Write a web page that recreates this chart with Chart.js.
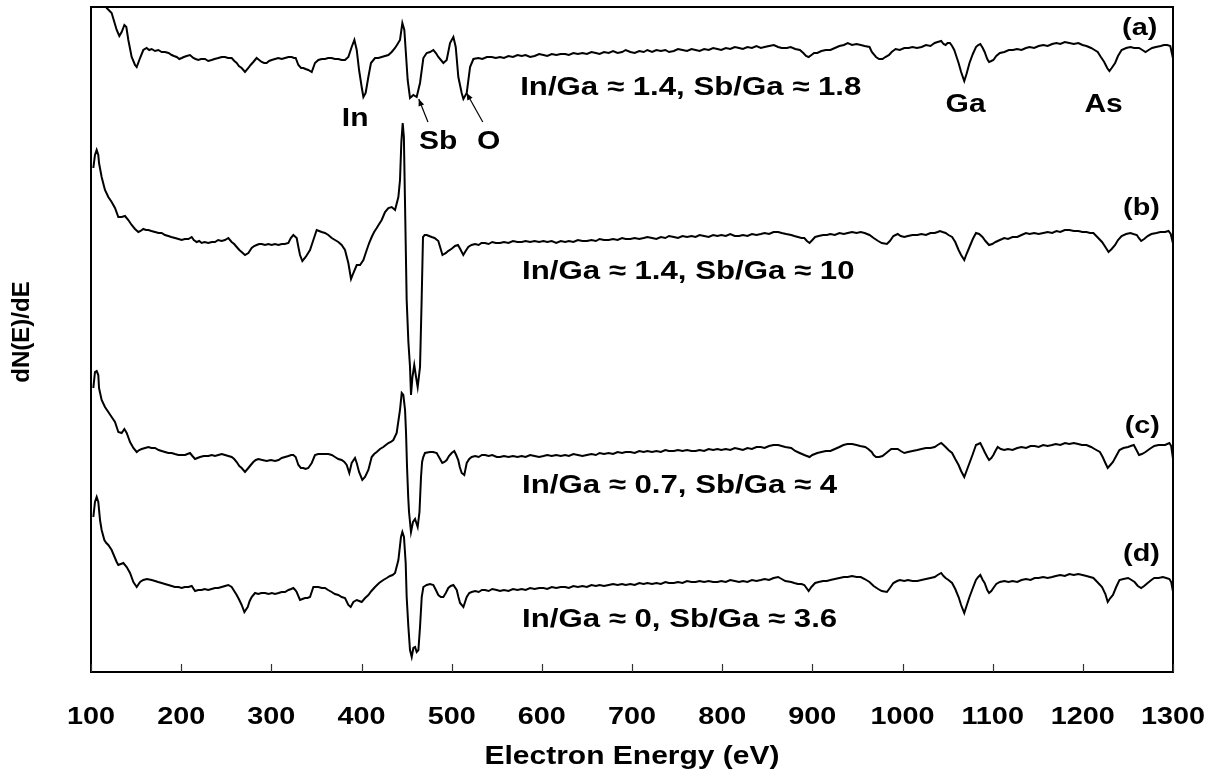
<!DOCTYPE html>
<html>
<head>
<meta charset="utf-8">
<script src="https://cdn.jsdelivr.net/npm/chart.js@4.4.1/dist/chart.umd.min.js"></script>
<style>
  html, body { margin: 0; padding: 0; background: #ffffff; }
  #wrap { width: 1217px; height: 782px; }
</style>
</head>
<body>
<div id="wrap"><canvas id="auger" width="1217" height="782"></canvas></div>
<script>
// Auger electron spectra dN(E)/dE, four samples, offset vertically (arb. units)
const energyTicks = [100, 200, 300, 400, 500, 600, 700, 800, 900, 1000, 1100, 1200, 1300];

const spectrumA = [[102.6,700],[106,720],[110,705],[114,680],[117.4,664],[122.9,659],[128.5,642],[131.4,636],[134,640],[137,647],[139.2,645],[141.4,632],[145.1,615],[148.8,607],[150.7,605],[154.4,614],[158,622],[161.7,624],[164.5,622],[167.3,623],[171,621],[174.7,622],[178.4,620],[182.1,620],[186,619],[189.5,617],[192,616],[195,615],[198,613],[200.6,614],[203,615],[206.1,616],[209.8,617],[213.5,614],[216,613],[219,612],[222,613],[226.4,613],[230,611],[233.8,612],[237,613],[241.2,614],[245,615],[248.6,615],[252,614],[256,614],[259,611],[261.6,609],[264,606],[267.1,604],[270.8,600],[274.5,604],[277,607],[280,610],[283.7,614],[286.5,612],[289.3,610],[292,609],[294.8,609],[297.5,611],[300.4,612],[304,613],[307.8,614],[311.5,613],[315.2,614],[319,615],[322.6,615],[325,614],[327,614],[330,607],[333,604],[335.5,604],[338,603],[341,602],[344.8,600],[348.4,609],[352.1,612],[356,613],[359.5,613],[363,614],[366.9,614],[370.5,613],[374.3,613],[378,612],[381.7,612],[385.4,615],[389.1,625],[392.1,632],[394.7,622],[397.3,602],[400.2,585],[402.1,575],[404.6,579],[407.6,595],[410.5,609],[415,614],[418.7,614],[422.4,615],[426,616],[429.8,617],[433.5,620],[437.2,624],[440,628],[442.7,632],[445.3,649],[447.5,642],[449,622],[451.2,592],[453.8,574],[457.5,577],[461.2,575],[464.9,589],[468.6,614],[472.3,619],[476,620],[479.7,622],[482.5,619],[485.2,615],[490.8,609],[494.5,612],[498.2,629],[501.9,635],[504.5,625],[507.4,595],[511.1,579],[513,573],[516.7,579],[520.4,605],[524.1,613],[529.6,614],[534,613],[539,615],[544.4,615],[549,614],[553.6,615],[558,614],[563,616],[568,615],[573,617],[577.7,616],[582,617],[587,615],[592,616],[597,618],[601.8,617],[606,616],[611,618],[616,617],[621,618],[625.9,618],[630,617],[635,619],[640,618],[645,619],[650,618],[655,620],[660,619],[664,618],[669,620],[674.1,619],[679,621],[684,619],[689,620],[693,622],[698.2,620],[703,619],[708,621],[713,620],[717,622],[722.3,620],[727,622],[732,621],[737,622],[741,620],[746.4,621],[751,623],[756,622],[761,621],[766,623],[770.5,622],[775,621],[780,623],[785,622],[790,624],[794.7,623],[799,622],[804,624],[809,623],[814,625],[818.8,624],[823,623],[828,625],[833,624],[838,626],[842.9,624],[847,625],[852,626],[857.3,627],[862,625],[866,624],[871.8,624],[876,625],[881,623],[886.2,622],[890,619],[893,616],[895.9,615],[899,617],[902,619],[905.5,619],[910,621],[915,622],[920,622],[925,624],[930,626],[935,627],[939.3,629],[944,627],[949,628],[953.7,627],[958,626],[963.4,625],[966,620],[970.6,615],[974,613],[977.8,613],[981,615],[985.1,617],[988,620],[992.3,623],[997,622],[1002,624],[1006.8,624],[1011,625],[1016,624],[1021.2,625],[1026,627],[1031,626],[1035.7,629],[1039,630],[1042.9,631],[1045.5,628],[1047.8,627],[1050,629],[1052.6,629],[1055,626],[1057.4,622],[1060,615],[1062.2,609],[1065,600],[1068.5,591],[1071,598],[1074.3,609],[1078,618],[1081.5,625],[1084,627],[1086.3,628],[1089,624],[1091.1,620],[1094,613],[1096,610],[1098.5,611],[1100.8,612],[1104,616],[1108,619],[1113,620],[1118,622],[1122.5,622],[1127,623],[1132,622],[1136.9,624],[1141,625],[1146,624],[1151,626],[1156.2,627],[1161,626],[1166,628],[1170.7,629],[1175,628],[1180,630],[1185.1,629],[1190,628],[1195,629],[1199.6,627],[1204,626],[1209.2,624],[1213,622],[1216.5,620],[1220,615],[1223.7,610],[1227,604],[1229.5,601],[1232,604],[1235.8,609],[1239,616],[1243,622],[1248,624],[1252.7,625],[1257,624],[1262.3,624],[1266,622],[1269.5,620],[1273,622],[1276.8,624],[1281,625],[1286.4,626],[1290,627],[1293.6,627],[1297,626],[1299.9,614]];

const spectrumB = [[102.6,504],[104.4,517],[106.3,522],[108.1,517],[108.9,509],[111.8,495],[115.5,482],[119.2,475],[122.9,470],[126.6,464],[130.3,455],[134,455],[137.7,456],[141.4,452],[145.1,447],[148.8,443],[152.5,440],[155,441],[158,443],[161,442],[163.6,442],[167,441],[171,440],[175,439],[178.4,439],[182,437],[185.8,436],[189,435],[193.2,434],[197,433],[200.6,432],[204,433],[208,433],[211.7,435],[214,432],[217.2,430],[220,431],[222.7,429],[226,430],[230.1,429],[234,430],[237.5,430],[241,432],[244.9,431],[248.6,432],[252.3,434],[256,430],[258.8,428],[261.6,425],[264.5,422],[267.1,420],[270.8,417],[274.5,419],[278.2,424],[281,426],[283.7,427],[286.5,428],[289.3,428],[293,427],[296.7,428],[300.4,427],[304,428],[308,427],[311.5,428],[315,428],[318.9,429],[321.6,434],[324.4,437],[328.1,434],[330,425],[331.8,417],[334.4,411],[338.1,415],[342.9,422],[346.6,432],[350.3,442],[353,441],[355.8,440],[359.5,439],[363.2,437],[367,434],[370.6,432],[374.3,430],[378,427],[381.7,422],[385.4,409],[388.4,393],[391,399],[394.7,407],[398.4,407],[402.1,412],[405.8,422],[408.5,429],[411.3,435],[414,440],[416.9,444],[419.6,448],[422.4,452],[426.1,460],[429.8,464],[433.5,465],[437.2,462],[440.9,475],[442.7,492],[444.2,530],[445.7,549],[447,535],[448.2,472],[450.1,372],[452,330],[453.8,305],[454.9,277],[456.5,295],[458.5,307],[460.5,295],[462.3,285],[464.9,305],[466.7,372],[468.2,435],[470,437],[472.3,437],[475,436],[477.8,435],[481,434],[485.2,431],[487.5,424],[489.8,417],[491.5,418],[493.7,419],[496,421],[498.1,422],[501,424],[503.7,426],[507,427],[509.5,423],[512.9,417],[515.5,421],[518.4,425],[522,427],[525.9,428],[530,427],[533,429],[536.9,429],[541,428],[545,430],[549,429],[553.6,429],[558,430],[563,429],[568,431],[573,430],[577.7,430],[582,431],[587,430],[592,431],[597,430],[601.8,431],[606,430],[611,431],[616,429],[621,431],[625.9,430],[630,431],[635,430],[640,432],[645,431],[650,431],[655,432],[660,431],[664,433],[669,432],[674.1,432],[679,433],[684,432],[689,434],[693,433],[698.2,433],[703,434],[708,433],[713,434],[717,435],[722.3,434],[727,433],[732,435],[737,434],[741,436],[746.4,435],[751,434],[756,436],[761,435],[766,436],[770.5,435],[775,437],[780,436],[785,435],[790,437],[794.7,436],[799,437],[804,436],[809,438],[814,436],[818.8,436],[823,437],[828,436],[833,438],[838,437],[842.9,438],[847,439],[852,438],[857,440],[862.1,440],[866,439],[871,438],[876.6,437],[880,436],[884,435],[888,434],[891.1,434],[894,431],[896.9,429],[900,432],[903.1,435],[907,436],[912,437],[916,437],[920,438],[925,437],[930,439],[935,438],[939.3,439],[944,440],[949,439],[953.7,440],[958,439],[963.4,437],[968,434],[973,431],[977,429],[982.7,428],[986,431],[989.9,436],[994.7,438],[998,436],[1002,435],[1006,436],[1011,437],[1016.4,437],[1021,438],[1026,437],[1031,439],[1035.7,439],[1039,440],[1041.5,441],[1044.5,440],[1047.8,439],[1051,437],[1055,435],[1058.5,430],[1062.2,422],[1065,417],[1068.5,412],[1071,418],[1074.3,425],[1078,433],[1081.5,439],[1085,438],[1088.7,435],[1092,431],[1096,427],[1099.5,428],[1103.2,430],[1108,432],[1112.8,434],[1117,433],[1122,435],[1127.3,435],[1132,437],[1136.9,439],[1141,438],[1146,439],[1151,438],[1156.2,439],[1161,440],[1166,439],[1170.7,441],[1175,440],[1180,442],[1185.1,442],[1190,441],[1195,441],[1199.6,440],[1204,440],[1208,439],[1211.7,439],[1216,435],[1221.3,430],[1225,425],[1228.5,420],[1232,423],[1235.8,427],[1239,432],[1243,436],[1248,438],[1252.7,439],[1256,438],[1259.9,437],[1262,434],[1264.7,431],[1268,433],[1271.9,436],[1276,438],[1281.6,439],[1286,440],[1291.2,440],[1295,441],[1297.5,438],[1299.9,429]];

const spectrumC = [[102.6,284],[104.4,300],[106.3,301],[108.1,297],[108.9,284],[111.8,272],[115.5,265],[119.2,260],[122.9,255],[126.6,250],[130.3,240],[134,239],[137,243],[139.6,239],[143.3,230],[147,224],[150.7,220],[153.5,222],[156.2,223],[160,224],[163.6,225],[167,224],[171,224],[175,222],[178.4,221],[182,220],[185.8,219],[189.5,219],[193,218],[196.9,217],[200.6,217],[204.3,217],[207,218],[209.8,219],[212.5,216],[215.4,213],[218,214],[220.9,215],[225,216],[230.1,216],[234,217],[237.5,216],[241.2,217],[245,218],[248.6,217],[252.3,216],[256,215],[258.8,213],[261.6,210],[264.5,206],[267.1,204],[270.8,200],[274.5,204],[277.2,207],[280,210],[282.8,212],[285.6,213],[290,212],[294.8,211],[299.5,212],[304.1,211],[308,212],[311.5,214],[315.2,215],[319,216],[322,217],[324.4,217],[327,215],[330,207],[332.8,204],[335.5,204],[338,203],[341,204],[344.8,209],[348.4,217],[352,218],[355.8,218],[359.5,218],[363.2,218],[367,217],[370.6,215],[374.3,213],[378,212],[381,210],[383.6,207],[386.5,199],[389.1,209],[392.8,214],[394.7,209],[397.3,200],[400.9,192],[403.9,195],[407.6,202],[411.3,215],[414,218],[416.9,220],[420.5,223],[424.2,225],[427,227],[429.8,229],[432.5,230],[435.3,232],[439,239],[442.7,262],[444.6,279],[446.4,277],[448.3,262],[449.4,239],[450.5,205],[451.8,175],[452.7,160],[454.9,140],[457.1,150],[459.4,153],[462.3,145],[464.3,160],[466,195],[467.2,210],[468.5,215],[470.4,219],[475.9,220],[479.5,220],[483.4,219],[486.5,214],[489.6,209],[492,210],[494.5,212],[497,216],[500,219],[502.9,221],[505,217],[507.3,212],[509,205],[511.1,199],[514,197],[516.7,209],[519.5,213],[522.2,215],[526,216],[530,215],[533.5,217],[537,217],[541,216],[545,217],[550,215],[553.6,215],[558,216],[563,215],[568,216],[573,215],[577.7,216],[582,215],[587,217],[592,216],[597,215],[601.8,216],[606,217],[611,216],[616,217],[621,216],[625.9,217],[630,216],[635,218],[640,217],[645,216],[650,217],[655,218],[660,217],[664,219],[669,218],[674.1,219],[679,218],[684,220],[689,219],[693,220],[698.2,220],[703,219],[708,221],[713,220],[717,221],[722.3,220],[727,221],[732,220],[737,222],[741,221],[746.4,221],[751,222],[756,221],[761,222],[766,221],[770.5,221],[775,222],[780,221],[785,223],[790,222],[794.7,223],[799,222],[804,223],[809,222],[814,224],[818.8,223],[823,222],[828,224],[833,223],[838,225],[842.9,225],[847,224],[852,226],[857,227],[862.1,227],[866,226],[870,225],[876.6,224],[881,221],[886,219],[891.1,217],[894,216],[896.9,215],[900,217],[905.5,219],[910,220],[915,221],[920,221],[925,223],[930,225],[934.5,227],[939,228],[944.1,228],[949,227],[953,226],[958.6,225],[962,223],[965.8,220],[968,217],[970.6,215],[974,215],[977.8,216],[982,219],[987.5,223],[991,223],[994.7,223],[998,221],[1002,219],[1006,220],[1011,221],[1016.4,222],[1021,223],[1026,224],[1031,224],[1035.7,225],[1039,227],[1042.9,229],[1045.5,227],[1047.8,225],[1051,222],[1055,219],[1058.5,213],[1062.2,207],[1065,201],[1068.5,195],[1071,201],[1074.3,209],[1078,218],[1081.5,227],[1084,228],[1086.3,229],[1089,224],[1091.1,220],[1094,215],[1096,212],[1098.5,214],[1100.8,217],[1103,221],[1105.6,225],[1109,223],[1112.8,222],[1117,223],[1122,222],[1127.3,224],[1132,225],[1137,224],[1142,226],[1146.6,226],[1151,225],[1156,227],[1161,226],[1165.9,227],[1170,228],[1175,227],[1180.3,229],[1185,228],[1190,229],[1194.8,228],[1199,227],[1204,227],[1209.2,225],[1213,223],[1218.9,220],[1222,215],[1225,209],[1227.6,204],[1230.5,207],[1233.4,210],[1237,216],[1240.6,222],[1245,224],[1250.2,225],[1253,226],[1256.5,227],[1259.5,222],[1262.3,217],[1265.5,218],[1269.5,220],[1274,223],[1279.2,226],[1284,227],[1291.2,227],[1296,229],[1298,226],[1299.9,214]];

const spectrumD = [[102.6,155],[104.4,170],[106.3,175],[108.1,170],[110,152],[111.8,142],[114.8,132],[117,129],[119.2,127],[122.9,122],[126.6,114],[128.5,110],[130.3,107],[133,108],[135.9,109],[139.6,105],[143.3,99],[147,90],[150.7,85],[154.4,90],[158,92],[162,93],[167.3,92],[171,91],[174.5,90],[178.4,89],[182,88],[185.8,87],[189.5,86],[193,85],[197,85],[200.6,84],[204,85],[208,85],[211.7,86],[215.4,81],[219,82],[222.7,82],[226,83],[230,82],[233.8,83],[237.5,84],[241,84],[244.9,85],[248.6,86],[252.3,87],[256,85],[258.8,81],[261.6,77],[264.5,72],[267.1,67],[270.1,60],[273.8,65],[276,71],[278.2,75],[281.9,79],[285.5,78],[289,79],[293,79],[297,78],[300.6,79],[304.1,78],[308,79],[311.5,80],[315.2,80],[319,82],[322,83],[324.4,84],[326.5,82],[328.1,80],[331.8,72],[334.5,73],[337.4,74],[340,74],[342.9,75],[346.6,85],[349.5,85],[352.1,85],[356,84],[359.5,84],[363,82],[366.9,80],[370.5,78],[374.3,77],[378,75],[381.7,74],[385.4,67],[388,65],[391,70],[394.7,72],[397.5,71],[400.2,70],[404,74],[407.6,77],[411,81],[415,85],[419.5,89],[424.2,92],[428,94],[431.6,96],[434.5,97],[437.2,99],[440.9,112],[443.8,135],[445.3,140],[447.1,135],[449,109],[450.1,75],[452,45],[453.8,22],[455.7,15],[457.5,24],[459.4,25],[461.2,20],[463.1,22],[464.9,45],[466.8,75],[468.6,85],[472.3,87],[476,88],[479.7,87],[482.5,82],[485.2,77],[488,75],[490.8,75],[493.5,79],[496.3,84],[499,86],[501.9,87],[505.6,82],[507.5,75],[509.3,69],[513,65],[516.7,75],[519.5,79],[522.2,80],[526,81],[530,80],[533.5,82],[537,82],[541,81],[545,83],[550,82],[553.6,81],[558,82],[563,81],[568,83],[573,82],[577.7,83],[582,82],[587,84],[592,83],[597,84],[601.8,84],[606,83],[611,85],[616,84],[621,85],[625.9,85],[630,84],[635,86],[640,85],[645,86],[650,85],[655,87],[660,86],[664,87],[669,86],[674.1,87],[679,88],[684,87],[689,88],[693,87],[698.2,88],[703,87],[708,89],[713,88],[717,89],[722.3,88],[727,89],[732,88],[737,90],[741,89],[746.4,89],[751,90],[756,89],[761,91],[766,90],[770.5,90],[775,91],[780,90],[785,91],[790,90],[794.7,90],[799,91],[804,90],[809,92],[814,91],[818.8,90],[823,91],[828,90],[833,92],[838,91],[842.9,92],[847,93],[852,92],[857,94],[862.1,95],[866,93],[870,91],[876.6,90],[880,89],[884,88],[888,88],[891.1,87],[893.5,84],[895.9,81],[899,85],[903.1,89],[907,90],[912,91],[916,91],[920,92],[925,93],[930,94],[935,95],[939.3,95],[944,96],[949,95],[953.7,95],[958,93],[963.4,90],[968,86],[973,83],[977,81],[982.7,80],[986,84],[989.9,89],[994,91],[997.1,92],[1002,91],[1006,92],[1011,91],[1016.4,91],[1021,92],[1026,93],[1031,94],[1035.7,95],[1039,97],[1042.9,99],[1045.5,96],[1047.8,94],[1051,92],[1055,89],[1058.5,83],[1062.2,75],[1065,67],[1068.5,59],[1071,66],[1074.3,75],[1078,84],[1081.5,92],[1084,95],[1086.3,97],[1089,92],[1091.1,89],[1094,82],[1096,79],[1098.5,81],[1100.8,84],[1104,88],[1108,90],[1113,91],[1117.5,90],[1122,91],[1127.3,90],[1132,92],[1137,93],[1142,92],[1146.6,94],[1151,94],[1156,95],[1161,94],[1165.9,95],[1170,96],[1175,97],[1180,96],[1185.1,98],[1190,97],[1195,98],[1199.6,97],[1204,96],[1208,95],[1211.7,94],[1216,90],[1221.3,85],[1225,78],[1227.6,70],[1230.5,74],[1233.4,77],[1237,85],[1240.6,92],[1245,93],[1250.2,94],[1254,92],[1257.4,90],[1261,86],[1264.7,84],[1268,86],[1271.9,89],[1276,92],[1279.2,94],[1284,94],[1288.8,95],[1292.5,94],[1296,93],[1298,90],[1299.9,81]];

const sampleTags = ['(a)', '(b)', '(c)', '(d)'];
const ratioNotes = ['In/Ga \u2248 1.4, Sb/Ga \u2248 1.8', 'In/Ga \u2248 1.4, Sb/Ga \u2248 10', 'In/Ga \u2248 0.7, Sb/Ga \u2248 4', 'In/Ga \u2248 0, Sb/Ga \u2248 3.6'];
const peakNames = ['In', 'Sb', 'O', 'Ga', 'As'];

// placement of the text, in axis units (eV, signal)
const tagAnchors = [[1263, 644], [1265, 464], [1266, 246], [1265, 118]];
const noteAnchors = [[576, 584], [578, 400], [578, 186], [578, 52]];
const peakAnchors = [[393, 553], [485, 530], [541, 530], [1070, 567], [1223, 567]];
// pointer arrows for Sb and O: [tailE, tailS, tipE, tipS]
const pointerArrows = [[473.7, 550, 463.5, 573], [534.5, 550, 516.5, 579]];

const FONT = '"Liberation Sans", Arial, Helvetica, sans-serif';
const STRETCH = 1.2;

function wideText(ctx, text, x, y, size, align) {
  ctx.save();
  ctx.translate(x, y);
  ctx.scale(STRETCH, 1);
  ctx.font = 'bold ' + size + 'px ' + FONT;
  ctx.fillStyle = '#000';
  ctx.textAlign = align;
  ctx.textBaseline = 'middle';
  ctx.fillText(text, 0, 0);
  ctx.restore();
}

const framePlugin = {
  id: 'framePlugin',
  afterDatasetsDraw(chart) {
    const { ctx, chartArea: a, scales: { x, y } } = chart;
    ctx.save();
    // plot frame
    ctx.strokeStyle = '#000';
    ctx.lineWidth = 2;
    ctx.strokeRect(a.left, a.top, a.right - a.left, a.bottom - a.top);
    // inward tick marks on the energy axis
    ctx.strokeStyle = '#333';
    ctx.lineWidth = 1.2;
    energyTicks.forEach(e => {
      const px = Math.round(x.getPixelForValue(e)) + 0.5;
      ctx.beginPath();
      ctx.moveTo(px, a.bottom);
      ctx.lineTo(px, a.bottom - 8);
      ctx.stroke();
    });
    // tick labels
    energyTicks.forEach(e => wideText(ctx, String(e), x.getPixelForValue(e), 717, 24, 'center'));
    // axis titles
    wideText(ctx, 'Electron Energy (eV)', (a.left + a.right) / 2, 757, 25, 'center');
    ctx.save();
    ctx.translate(22, 332);
    ctx.rotate(-Math.PI / 2);
    ctx.font = 'bold 24px ' + FONT;
    ctx.fillStyle = '#000';
    ctx.textAlign = 'center';
    ctx.textBaseline = 'middle';
    ctx.fillText('dN(E)/dE', 0, 0);
    ctx.restore();
    // sample tags and composition notes
    sampleTags.forEach((t, i) => wideText(ctx, t, x.getPixelForValue(tagAnchors[i][0]), y.getPixelForValue(tagAnchors[i][1]), 24, 'center'));
    ratioNotes.forEach((t, i) => wideText(ctx, t, x.getPixelForValue(noteAnchors[i][0]), y.getPixelForValue(noteAnchors[i][1]), 26, 'left'));
    peakNames.forEach((t, i) => wideText(ctx, t, x.getPixelForValue(peakAnchors[i][0]), y.getPixelForValue(peakAnchors[i][1]), 25, 'center'));
    // arrows
    ctx.strokeStyle = '#000';
    ctx.fillStyle = '#000';
    ctx.lineWidth = 1.2;
    pointerArrows.forEach(p => {
      const x0 = x.getPixelForValue(p[0]), y0 = y.getPixelForValue(p[1]);
      const x1 = x.getPixelForValue(p[2]), y1 = y.getPixelForValue(p[3]);
      ctx.beginPath();
      ctx.moveTo(x0, y0);
      ctx.lineTo(x1, y1);
      ctx.stroke();
      const ang = Math.atan2(y1 - y0, x1 - x0);
      const L = 7, W = 3;
      ctx.beginPath();
      ctx.moveTo(x1, y1);
      ctx.lineTo(x1 - L * Math.cos(ang) + W * Math.sin(ang), y1 - L * Math.sin(ang) - W * Math.cos(ang));
      ctx.lineTo(x1 - L * Math.cos(ang) - W * Math.sin(ang), y1 - L * Math.sin(ang) + W * Math.cos(ang));
      ctx.closePath();
      ctx.fill();
    });
    ctx.restore();
  }
};

function asPoints(arr) { return arr.map(p => ({ x: p[0], y: p[1] })); }

const traceStyle = { borderColor: '#000', borderWidth: 2, pointRadius: 0, tension: 0, fill: false, clip: 0 };

new Chart(document.getElementById('auger'), {
  type: 'line',
  data: {
    datasets: [
      Object.assign({ label: '(a)', data: asPoints(spectrumA) }, traceStyle),
      Object.assign({ label: '(b)', data: asPoints(spectrumB) }, traceStyle),
      Object.assign({ label: '(c)', data: asPoints(spectrumC) }, traceStyle),
      Object.assign({ label: '(d)', data: asPoints(spectrumD) }, traceStyle)
    ]
  },
  options: {
    responsive: false,
    animation: false,
    devicePixelRatio: 1,
    layout: { padding: { left: 91, right: 44, top: 7, bottom: 110 } },
    plugins: { legend: { display: false }, tooltip: { enabled: false } },
    scales: {
      x: { type: 'linear', min: 100, max: 1300, display: false },
      y: { type: 'linear', min: 0, max: 665, display: false }
    }
  },
  plugins: [framePlugin]
});
</script>
</body>
</html>
